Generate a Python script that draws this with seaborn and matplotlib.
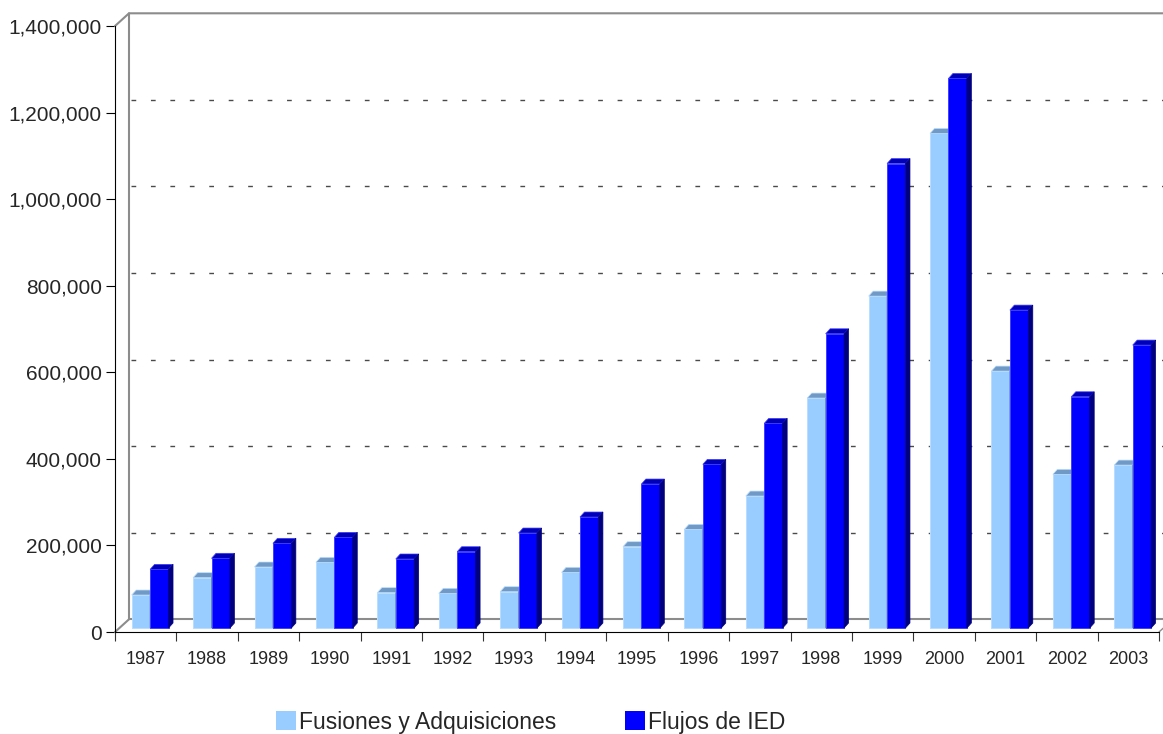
import pandas as pd
import seaborn as sns
import matplotlib.pyplot as plt
from matplotlib.patches import Polygon, Patch
from matplotlib.ticker import FuncFormatter

# Datos (millones de dolares)
anios = ['1987', '1988', '1989', '1990', '1991', '1992', '1993', '1994', '1995',
         '1996', '1997', '1998', '1999', '2000', '2001', '2002', '2003']
fusiones = [76200, 116200, 140900, 151700, 81600, 80100, 83800, 128600, 187800,
            227900, 304800, 531200, 766700, 1142500, 593500, 355000, 376400]
flujos = [135500, 161000, 195600, 209400, 159400, 176200, 219400, 256400, 332600,
          378000, 472700, 679700, 1073000, 1269600, 734400, 534200, 653600]
series = ['Fusiones y Adquisiciones', 'Flujos de IED']
y_ticks = [0, 200000, 400000, 600000, 800000, 1000000, 1200000, 1400000]

# colores: frente, arriba, lado, borde
colores = {
    'Fusiones y Adquisiciones': ('#99CCFF', '#7099C6', '#5C7FA8', '#B8DDFF'),
    'Flujos de IED': ('#0000FF', '#0000B8', '#000080', '#4040FF'),
}

df = pd.DataFrame({
    'anio': anios * 2,
    'serie': [series[0]] * len(anios) + [series[1]] * len(anios),
    'valor': fusiones + flujos,
})

sns.set_style('white')
plt.rcParams['font.family'] = ['Liberation Sans', 'DejaVu Sans']

W, H = 1163, 734
fig = plt.figure(figsize=(W / 100, H / 100), dpi=100)
ax_left, ax_right, ax_top, ax_bottom = 115, 1159, 26, 632
ax = fig.add_axes([ax_left / W, (H - ax_bottom) / H,
                   (ax_right - ax_left) / W, (ax_bottom - ax_top) / H])

sns.barplot(data=df, x='anio', y='valor', hue='serie', hue_order=series,
            palette={s: colores[s][0] for s in series}, width=0.6,
            saturation=1, errorbar=None, legend=False, ax=ax)

ax.set_xlim(-0.5, len(anios) - 0.5)
ax.set_ylim(0, 1400000)

# pixel -> unidades de datos
sx = (len(anios)) / (ax_right - ax_left)
sy = 1400000 / (ax_bottom - ax_top)
bx, by = 4.4 * sx, 4.0 * sy      # plano de las barras
dx, dy = 4.5 * sx, 5.0 * sy      # profundidad de cada barra
wx, wy = 14 * sx, 12.7 * sy      # pared del fondo

# efecto 3D de las barras
for i, (cont, s) in enumerate(zip(ax.containers, series)):
    frente, arriba, lado, borde = colores[s]
    for p in cont.patches:
        x0 = p.get_x() + bx
        w = p.get_width()
        h = p.get_height()
        y0 = by
        p.set_x(x0)
        p.set_y(y0)
        p.set_edgecolor(borde)
        p.set_linewidth(0.7)
        p.set_zorder(3 + i)
        top = Polygon([(x0, y0 + h), (x0 + w, y0 + h), (x0 + w + dx, y0 + h + dy),
                       (x0 + dx, y0 + h + dy)], closed=True, facecolor=arriba,
                      edgecolor=borde, linewidth=0.5, zorder=3 + i, clip_on=False)
        side = Polygon([(x0 + w, y0), (x0 + w + dx, y0 + dy), (x0 + w + dx, y0 + h + dy),
                        (x0 + w, y0 + h)], closed=True, facecolor=lado,
                       edgecolor=lado, linewidth=0.5, zorder=3 + i, clip_on=False)
        ax.add_patch(top)
        ax.add_patch(side)

# pared del fondo y lineas de cuadricula
x_a, x_b = -0.5, len(anios) - 0.5
gris = '#8C8C8C'
for v in y_ticks[1:-1]:
    ln, = ax.plot([x_a + wx + 2 * sx, x_b + wx], [v + wy, v + wy], color='#4A4A4A',
                  linewidth=1.0, zorder=1, clip_on=False)
    ln.set_dashes((3.4, 10.6))
ax.plot([x_a, x_a + wx, x_a + wx, x_b + wx], [0, wy, 1400000 + wy, 1400000 + wy],
        color=gris, linewidth=1.5, zorder=1, clip_on=False)
ax.plot([x_a, x_a + wx], [1400000, 1400000 + wy], color=gris, linewidth=1.5,
        zorder=1, clip_on=False)
ax.plot([x_a + wx, x_b + wx], [wy, wy], color=gris, linewidth=1.5, zorder=1, clip_on=False)
ax.plot([x_b, x_b + wx], [0, wy], color=gris, linewidth=1.0, zorder=1, clip_on=False)

# ejes frontales
for s in ['top', 'right']:
    ax.spines[s].set_visible(False)
for s in ['left', 'bottom']:
    ax.spines[s].set_color('black')
    ax.spines[s].set_linewidth(0.8)
    ax.spines[s].set_zorder(5)

ax.set_yticks(y_ticks)
ax.yaxis.set_major_formatter(FuncFormatter(lambda v, pos: f'{int(v):,}'))
ax.tick_params(axis='y', direction='out', length=6.5, width=0.8, color='black',
               pad=3, labelsize=15, left=True)
ax.set_xticks(range(len(anios)))
ax.set_xticklabels(anios)
ax.set_xticks([k - 0.5 for k in range(len(anios) + 1)], minor=True)
ax.tick_params(axis='x', which='major', length=0, pad=13.5, labelsize=13)
ax.tick_params(axis='x', which='minor', direction='out', length=6.5, width=0.8,
               color='#333333', bottom=True)
ax.set_xlabel('')
ax.set_ylabel('')
ax.grid(False)

handles = [Patch(facecolor=colores[s][0], edgecolor='none') for s in series]
fig.legend(handles, series, loc='center', bbox_to_anchor=(531 / W, 1 - 722 / H),
           ncol=2, frameon=False, fontsize=16.5, handlelength=0.85, handleheight=0.85,
           handletextpad=0.15, columnspacing=3.0)

fig.savefig('out.png', dpi=100)
